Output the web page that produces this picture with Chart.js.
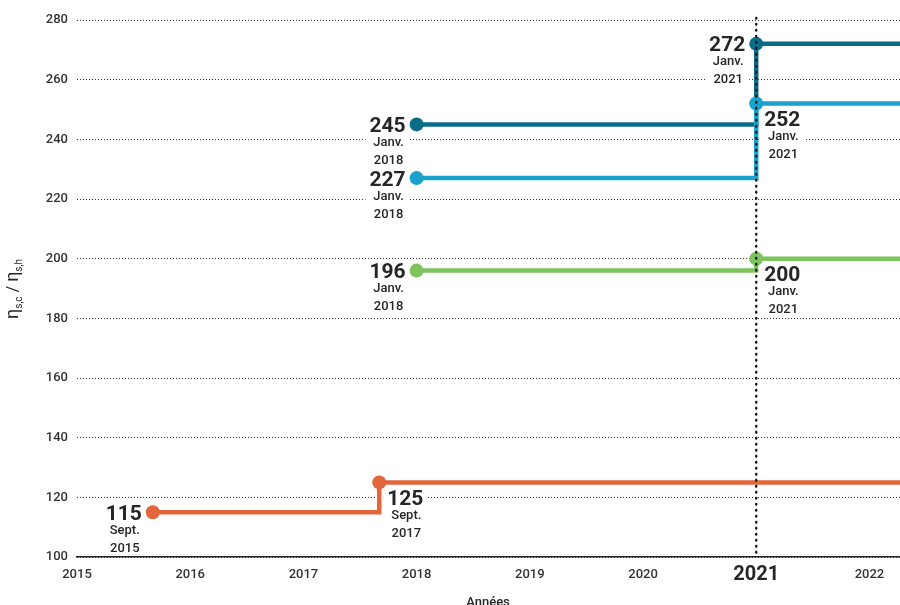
<!DOCTYPE html>
<html>
<head>
<meta charset="utf-8">
<script src="https://cdn.jsdelivr.net/npm/chart.js@4.4.1/dist/chart.umd.min.js"></script>
<style>
  html, body { margin: 0; padding: 0; background: #fff; }
  #wrap { width: 900px; height: 605px; }
</style>
</head>
<body>
<div id="wrap"><canvas id="chart"></canvas></div>
<script>
const yearTicks = [2015, 2016, 2017, 2018, 2019, 2020, 2021, 2022];
const valueTicks = [100, 120, 140, 160, 180, 200, 220, 240, 260, 280];
const markYear = 2021;
const xMin = 2015, xMax = 2022.27;

// each step: date (decimal year), value, caption under the value, caption side
const orangeDates = [2015.67, 2017.67];
const orangeValues = [115, 125];
const orangeTags = [["Sept.", "2015"], ["Sept.", "2017"]];
const orangeSides = ["left", "right"];

const greenDates = [2018, 2021];
const greenValues = [196, 200];
const greenTags = [["Janv.", "2018"], ["Janv.", "2021"]];
const greenSides = ["left", "right"];

const lightDates = [2018, 2021];
const lightValues = [227, 252];
const lightTags = [["Janv.", "2018"], ["Janv.", "2021"]];
const lightSides = ["left", "right"];

const darkDates = [2018, 2021];
const darkValues = [245, 272];
const darkTags = [["Janv.", "2018"], ["Janv.", "2021"]];
const darkSides = ["left", "left"];

const FONT = "Roboto, 'Noto Sans', sans-serif";
const INK = "#262626";

// last value runs on to the right edge of the plot
function steps(dates, values) {
  const pts = dates.map((d, i) => ({ x: d, y: values[i] }));
  pts.push({ x: xMax, y: values[values.length - 1] });
  return pts;
}

function series(dates, values, tags, sides, color) {
  return {
    data: steps(dates, values),
    tags, sides,
    borderColor: color,
    backgroundColor: color,
    borderWidth: 4.5,
    stepped: true,
    pointRadius: c => (c.dataIndex < dates.length ? 7 : 0),
    pointHoverRadius: 0,
    pointBorderWidth: 0
  };
}

function captions(chart, fn) {
  const ctx = chart.ctx;
  chart.data.datasets.forEach((ds, i) => {
    const meta = chart.getDatasetMeta(i);
    ds.tags.forEach((tag, j) => {
      const p = meta.data[j];
      const value = ds.data[j].y;
      ctx.font = "bold 21px " + FONT;
      const nw = ctx.measureText(String(value)).width;
      ctx.font = "500 13px " + FONT;
      const sw = Math.max(...tag.map(t => ctx.measureText(t).width));
      let nx, ny;
      if (ds.sides[j] === "left") { nx = p.x - 11 - nw; ny = p.y; }
      else { nx = p.x + 8; ny = p.y + 15; }
      const cx = nx + nw / 2 + 1;
      const left = Math.min(nx, cx - sw / 2) - 4;
      const right = Math.max(nx + nw, cx + sw / 2) + 4;
      fn({ value, tag, nx, ny, cx, box: { x: left, y: ny - 9, w: right - left, h: 52 } });
    });
  });
}

const decor = {
  id: "decor",
  beforeDatasetsDraw(chart) {
    const ctx = chart.ctx;
    ctx.save();
    ctx.fillStyle = "#fff";
    captions(chart, c => ctx.fillRect(c.box.x, c.box.y, c.box.w, c.box.h));
    ctx.restore();
  },
  afterDatasetsDraw(chart) {
    const ctx = chart.ctx;
    const area = chart.chartArea;
    const x = chart.scales.x.getPixelForValue(markYear);
    ctx.save();
    ctx.strokeStyle = "#111";
    ctx.lineWidth = 2.4;
    ctx.lineCap = "round";
    ctx.setLineDash([0.5, 5.5]);
    ctx.beginPath();
    ctx.moveTo(x, area.top - 2);
    ctx.lineTo(x, area.bottom);
    ctx.stroke();
    ctx.setLineDash([]);

    ctx.fillStyle = INK;
    ctx.textBaseline = "alphabetic";
    captions(chart, c => {
      ctx.font = "bold 21px " + FONT;
      ctx.textAlign = "left";
      ctx.fillText(String(c.value), c.nx, c.ny + 7.5);
      ctx.font = "500 13px " + FONT;
      ctx.textAlign = "center";
      ctx.fillText(c.tag[0], c.cx, c.ny + 17 + 4.6);
      ctx.fillText(c.tag[1], c.cx, c.ny + 35 + 4.6);
    });
    ctx.restore();
  },
  afterDraw(chart) {
    const ctx = chart.ctx;
    ctx.save();
    ctx.fillStyle = INK;
    ctx.textBaseline = "alphabetic";
    ctx.textAlign = "center";
    ctx.font = "bold 20px " + FONT;
    ctx.fillText(String(markYear), chart.scales.x.getPixelForValue(markYear), 580);
    ctx.font = "500 13px " + FONT;
    ctx.fillText("Années", 488, 606);

    // ηs,c / ηs,h, rotated
    ctx.translate(18, 289);
    ctx.rotate(-Math.PI / 2);
    const parts = [["η", 18, 0], ["s,c", 10, 4], [" / ", 16, 0], ["η", 18, 0], ["s,h", 10, 4]];
    let total = 0;
    parts.forEach(p => { ctx.font = p[1] + "px " + FONT; total += ctx.measureText(p[0]).width; });
    let px = -total / 2;
    ctx.textAlign = "left";
    parts.forEach(p => {
      ctx.font = p[1] + "px " + FONT;
      ctx.fillText(p[0], px, p[2]);
      px += ctx.measureText(p[0]).width;
    });
    ctx.restore();
  }
};

new Chart(document.getElementById("chart"), {
  type: "line",
  data: {
    datasets: [
      series(orangeDates, orangeValues, orangeTags, orangeSides, "#e3653b"),
      series(greenDates, greenValues, greenTags, greenSides, "#7dc45f"),
      series(lightDates, lightValues, lightTags, lightSides, "#1aa2cd"),
      series(darkDates, darkValues, darkTags, darkSides, "#0b6c88")
    ]
  },
  options: {
    responsive: true,
    maintainAspectRatio: false,
    animation: false,
    events: [],
    layout: { autoPadding: false, padding: { top: 20, right: 0, left: 0, bottom: 0 } },
    plugins: { legend: { display: false }, tooltip: { enabled: false } },
    scales: {
      x: {
        type: "linear",
        min: xMin,
        max: xMax,
        afterBuildTicks: s => { s.ticks = yearTicks.map(v => ({ value: v })); },
        afterFit: s => { s.height = 48; s.paddingRight = 0; s.paddingLeft = 0; },
        grid: { display: false, drawTicks: false },
        border: { display: true, color: "#222", width: 1.5 },
        ticks: {
          padding: 10,
          color: "#333",
          font: { family: FONT, size: 13, weight: 500 },
          maxRotation: 0,
          autoSkip: false,
          callback: v => (v === markYear ? "" : String(v))
        }
      },
      y: {
        min: 100,
        max: 280,
        afterBuildTicks: s => { s.ticks = valueTicks.map(v => ({ value: v })); },
        afterFit: s => { s.width = 77; },
        grid: { color: "#333", lineWidth: 1, drawTicks: false },
        border: { display: false, dash: [1, 2] },
        ticks: {
          padding: 9,
          color: "#333",
          font: { family: FONT, size: 13, weight: 500 },
          callback: v => String(v)
        }
      }
    }
  },
  plugins: [decor]
});
</script>
</body>
</html>
